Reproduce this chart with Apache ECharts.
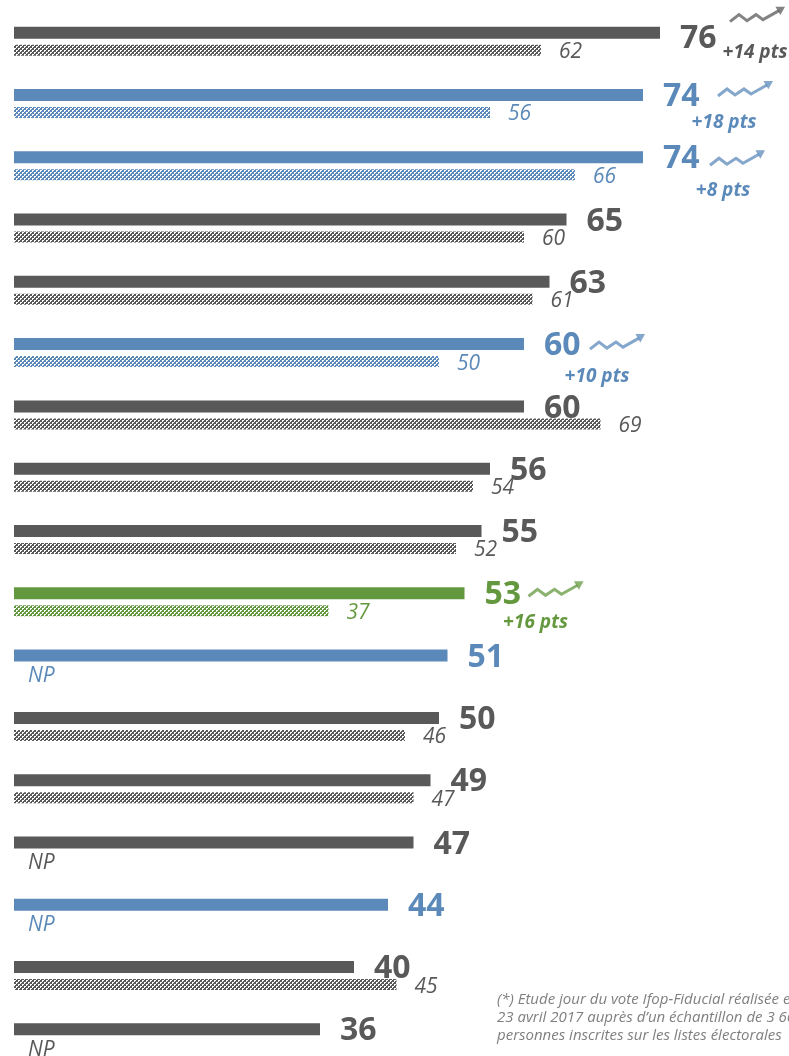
<!DOCTYPE html>
<html>
<head>
<meta charset="utf-8">
<script src="https://cdn.jsdelivr.net/npm/echarts@6/dist/echarts.min.js"></script>
<style>
  html, body { margin: 0; padding: 0; background: #fff; }
  #chart { width: 789px; height: 1056px; }
</style>
</head>
<body>
<div id="chart"></div>
<script>
// lignes du graphique (libellés non visibles sur l'image)
var categories = ['1', '2', '3', '4', '5', '6', '7', '8', '9', '10', '11', '12', '13', '14', '15', '16', '17'];
// score actuel
var current = [76, 74, 74, 65, 63, 60, 60, 56, 55, 53, 51, 50, 49, 47, 44, 40, 36];
// score précédent (null = NP)
var previous = [62, 56, 66, 60, 61, 50, 69, 54, 52, 37, null, 46, 47, null, null, 45, null];
// famille de couleur
var groups = ['gris', 'bleu', 'bleu', 'gris', 'gris', 'bleu', 'gris', 'gris', 'gris', 'vert', 'bleu', 'gris', 'gris', 'gris', 'bleu', 'gris', 'gris'];
// progression affichée
var trendPts = [14, 18, 8, null, null, 10, null, null, null, 16, null, null, null, null, null, null, null];
var footnote = [
    '(*) Etude jour du vote Ifop-Fiducial réalisée en ligne le',
    '23 avril 2017 auprès d\u2019un échantillon de 3 663',
    'personnes inscrites sur les listes électorales'
];

var palette = { gris: '#595959', bleu: '#5b89b9', vert: '#64983e' };

// position des flèches / "+x pts" par rapport au bout de la barre
var trendLayout = {
    0: { ix: 70, iy: -16, tx: 95, ty: 20 },
    1: { ix: 75, iy: -4, tx: 81, ty: 28 },
    2: { ix: 67, iy: 3, tx: 80, ty: 33 },
    5: { ix: 66, iy: 0, tx: 73, ty: 32 },
    9: { ix: 64, iy: -2, tx: 71, ty: 29 }
};

// damier pour les barres "précédent"
function checker(color) {
    var c = document.createElement('canvas');
    c.width = 4; c.height = 4;
    var ctx = c.getContext('2d');
    ctx.fillStyle = color;
    ctx.fillRect(0, 0, 4, 4);
    ctx.fillStyle = '#ffffff';
    ctx.fillRect(2, 0, 2, 1);
    ctx.fillRect(2, 1, 1, 1);
    ctx.fillRect(0, 2, 2, 1);
    ctx.fillRect(0, 3, 1, 1);
    return c;
}
var patterns = {
    gris: checker(palette.gris),
    bleu: checker(palette.bleu),
    vert: checker(palette.vert)
};

var FONT = '"Open Sans", sans-serif';

var chart = echarts.init(document.getElementById('chart'));

var curData = current.map(function (v, i) {
    var col = palette[groups[i]];
    return {
        value: v,
        itemStyle: { color: col },
        label: { color: col, offset: i === 0 ? [0, 6] : [0, 2] }
    };
});

var prevData = previous.map(function (v, i) {
    var col = palette[groups[i]];
    if (v == null) {
        return {
            value: 0,
            itemStyle: { color: 'transparent' },
            label: { formatter: 'NP', color: col, distance: 14, offset: [0, 3] }
        };
    }
    return {
        value: v,
        itemStyle: { color: { image: patterns[groups[i]], repeat: 'repeat' } },
        label: { color: col }
    };
});

var option = {
    animation: false,
    backgroundColor: '#fff',
    grid: { left: 14, top: 10, width: 850, height: 1059, outerBoundsMode: 'none' },
    xAxis: { type: 'value', min: 0, max: 100, show: false },
    yAxis: { type: 'category', data: categories, inverse: true, show: false },
    series: [
        {
            type: 'bar',
            data: curData,
            barWidth: 12,
            barGap: '50%',
            label: {
                show: true,
                position: 'right',
                distance: 20,
                fontFamily: FONT,
                fontWeight: 'bold',
                fontSize: 32
            }
        },
        {
            type: 'bar',
            data: prevData,
            barWidth: 11,
            label: {
                show: true,
                position: 'right',
                distance: 18,
                offset: [0, 2],
                fontFamily: FONT,
                fontStyle: 'italic',
                fontSize: 21
            }
        }
    ]
};
chart.setOption(option);

// flèches de tendance + "+x pts"
var graphics = [];
trendPts.forEach(function (pts, i) {
    if (pts == null) return;
    var lay = trendLayout[i];
    var col = palette[groups[i]];
    var p = chart.convertToPixel({ gridIndex: 0 }, [current[i], i]);
    var barEnd = p[0];
    var barY = p[1] - 8.5;
    graphics.push({
        type: 'group',
        x: barEnd + lay.ix,
        y: barY + lay.iy - 10,
        children: [
            {
                type: 'polyline',
                shape: { points: [[0, 15], [9, 8], [17, 14], [26, 8], [33, 13], [49, 4]] },
                style: { stroke: col, lineWidth: 3, fill: null, opacity: 0.75 }
            },
            {
                type: 'polygon',
                shape: { points: [[55, 0], [50.4, 8.4], [45.4, 0]] },
                style: { fill: col, opacity: 0.75 }
            }
        ]
    });
    graphics.push({
        type: 'text',
        x: barEnd + lay.tx,
        y: barY + lay.ty,
        style: {
            text: '+' + pts + ' pts',
            fill: col,
            font: 'italic bold 19px ' + FONT,
            align: 'center',
            verticalAlign: 'middle'
        }
    });
});

footnote.forEach(function (line, k) {
    graphics.push({
        type: 'text',
        left: 497,
        top: 992 + k * 18,
        style: {
            text: line,
            fill: '#7f7f7f',
            font: 'italic 15px ' + FONT
        }
    });
});

chart.setOption({ graphic: graphics });
</script>
</body>
</html>
